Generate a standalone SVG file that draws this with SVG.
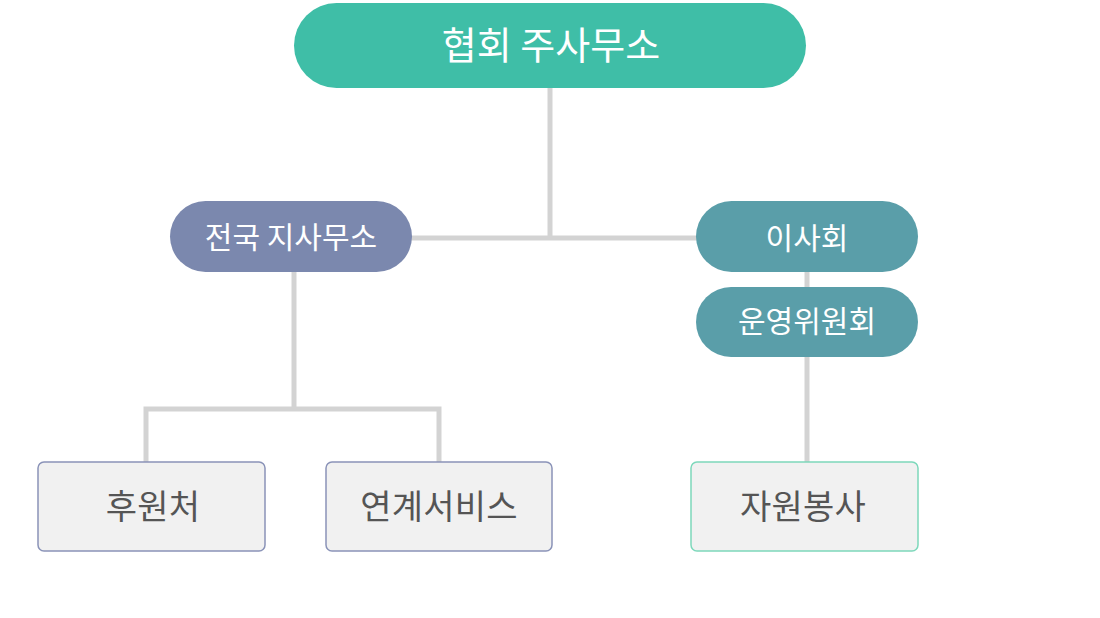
<svg xmlns="http://www.w3.org/2000/svg" width="1100" height="618" viewBox="0 0 1100 618">
<style>
.t{font-family:"Noto Sans CJK KR","Noto Sans",sans-serif;text-anchor:middle;}
.w{fill:#ffffff;font-size:30px;}
.g{fill:#555555;font-size:34px;letter-spacing:0.2px;}
.box{fill:#f1f1f1;stroke-width:1.5;}
.conn{stroke:#d3d3d3;stroke-width:5;fill:none;}
</style>
<rect width="1100" height="618" fill="#ffffff"/>
<g id="connectors">
<path class="conn" d="M550 88 V238 M410 238 H698"/>
<path class="conn" d="M294 272 V409 M146 462 V409 H439 V462"/>
<path class="conn" d="M807 272 V287 M807 357 V462"/>
</g>
<g id="n-hq">
<rect x="294" y="3" width="512" height="85" rx="42.5" fill="#3fbea7"/>
<text class="t w" x="551" y="59" style="font-size:38px">협회 주사무소</text>
</g>
<g id="n-branch">
<rect x="170" y="201" width="242" height="71" rx="35.5" fill="#7b88ae"/>
<text class="t w" x="291" y="248">전국 지사무소</text>
</g>
<g id="n-board">
<rect x="696" y="201" width="222" height="71" rx="35.5" fill="#5a9ea9"/>
<text class="t w" x="807" y="248.5">이사회</text>
</g>
<g id="n-committee">
<rect x="696" y="287" width="222" height="70" rx="35" fill="#5a9ea9"/>
<text class="t w" x="807" y="332">운영위원회</text>
</g>
<g id="n-sponsor">
<rect class="box" x="38" y="462" width="227" height="89" rx="6" stroke="#8a93b8"/>
<text class="t g" x="153" y="519">후원처</text>
</g>
<g id="n-link">
<rect class="box" x="326" y="462" width="226" height="89" rx="6" stroke="#8a93b8"/>
<text class="t g" x="439" y="519">연계서비스</text>
</g>
<g id="n-volunteer">
<rect class="box" x="691" y="462" width="227" height="89" rx="6" stroke="#7dd8bb"/>
<text class="t g" x="803" y="519">자원봉사</text>
</g>
</svg>
